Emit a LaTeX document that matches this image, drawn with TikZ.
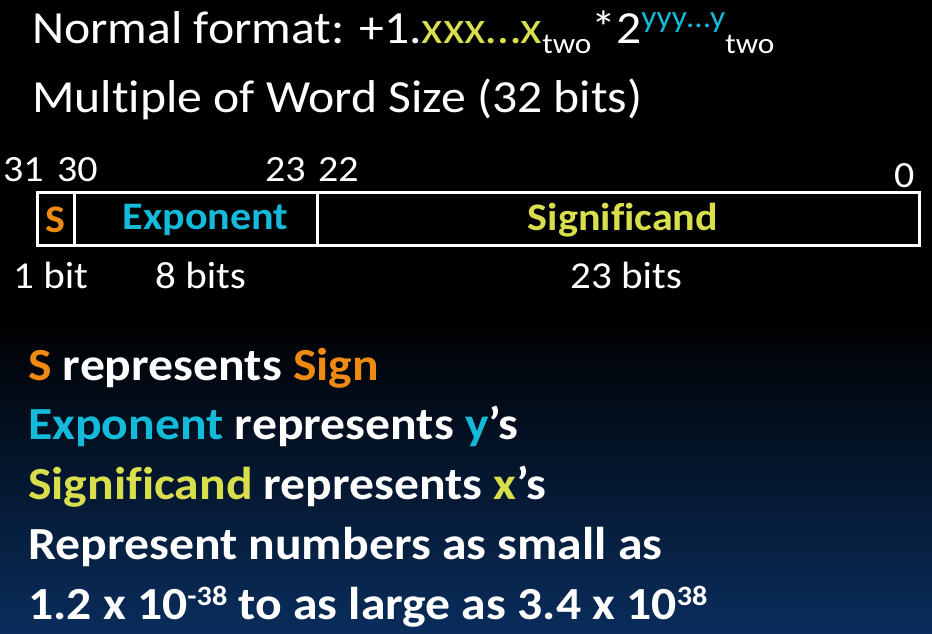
\documentclass[tikz,border=0pt]{standalone}
\usepackage{fontspec}
\setmainfont{Carlito}[FakeStretch=1.08, Ligatures=NoCommon]
\definecolor{signorange}{HTML}{EE8A12}
\definecolor{expcyan}{HTML}{14BAD9}
\definecolor{sigyellow}{HTML}{D9DF4C}
\definecolor{deepnavy}{HTML}{0A2D5C}
\pgfdeclareverticalshading{slidebg}{100bp}{color(0bp)=(deepnavy); color(25bp)=(deepnavy); color(50bp)=(black); color(100bp)=(black)}
\newcommand{\subtxt}[1]{{\fontsize{29}{30}\selectfont\raisebox{-10pt}{#1}}}
\newcommand{\suptxt}[3]{{\fontsize{#1}{30}\selectfont\raisebox{#2}{#3}}}
\begin{document}
\begin{tikzpicture}[x=1pt,y=-1pt,
  heading/.style={anchor=base west, inner sep=0pt, text=white, font=\fontsize{46}{50}\selectfont},
  bullet/.style={anchor=base west, inner sep=0pt, text=white, font=\bfseries\fontsize{46}{50}\selectfont},
  bitnum/.style={anchor=base west, inner sep=0pt, text=white, font=\fontsize{37}{40}\selectfont},
  bitwidth/.style={anchor=base west, inner sep=0pt, text=white, font=\fontsize{38}{42}\selectfont},
  cell/.style={draw=white, line width=3pt, rectangle, inner sep=0pt, minimum height=52.5pt},
  celltext/.style={inner sep=0pt, font=\bfseries\fontsize{39}{42}\selectfont}]
  % background
  \useasboundingbox (0,0) rectangle (932,633);
  \shade[shading=slidebg] (0,0) rectangle (932,633);

  % heading lines
  \node[heading] (fmt) at (32,43) {Normal format: +1.\textcolor{sigyellow}{xxx…x}\subtxt{two}*2\suptxt{31}{16pt}{\textcolor{expcyan}{yyy…y}}\subtxt{two}};
  \node[heading] (word) at (32,112) {Multiple of Word Size (32 bits)};

  % bit positions
  \node[bitnum] (b31) at (3,181) {31};
  \node[bitnum] (b30) at (57,181) {30};
  \node[bitnum] (b23) at (265,181) {23};
  \node[bitnum] (b22) at (318,181) {22};
  \node[bitnum] (b0) at (894,187) {0};

  % fields of the word
  \node[cell, minimum width=36.5pt] (sfield) at (55.75,218.75) {};
  \node[cell, minimum width=243pt] (efield) at (195.5,218.75) {};
  \node[cell, minimum width=602pt] (mfield) at (618,218.75) {};
  \node[celltext, text=signorange] (slabel) at ([yshift=-1pt]sfield.center) {S};
  \node[celltext, text=expcyan] (elabel) at ([xshift=10pt,yshift=-1pt]efield.center) {Exponent};
  \node[celltext, text=sigyellow] (mlabel) at ([xshift=5pt,yshift=-1pt]mfield.center) {Significand};

  % field widths
  \node[bitwidth] (w1) at (13,288) {1 bit};
  \node[bitwidth] (w8) at (155,288) {8 bits};
  \node[bitwidth] (w23) at (570,288) {23 bits};

  % explanation
  \node[bullet] (l1) at (28,380) {\textcolor{signorange}{S} represents \textcolor{signorange}{Sign}};
  \node[bullet] (l2) at (28,439) {\textcolor{expcyan}{Exponent} represents \textcolor{expcyan}{y}’s};
  \node[bullet] (l3) at (28,499) {\textcolor{sigyellow}{Significand} represents \textcolor{sigyellow}{x}’s};
  \node[bullet] (l4) at (28,559) {Represent numbers as small as};
  \node[bullet] (l5) at (28,619) {1.2 x 10\suptxt{28}{14pt}{-38} to as large as 3.4 x 10\suptxt{28}{14pt}{38}};
\end{tikzpicture}
\end{document}
